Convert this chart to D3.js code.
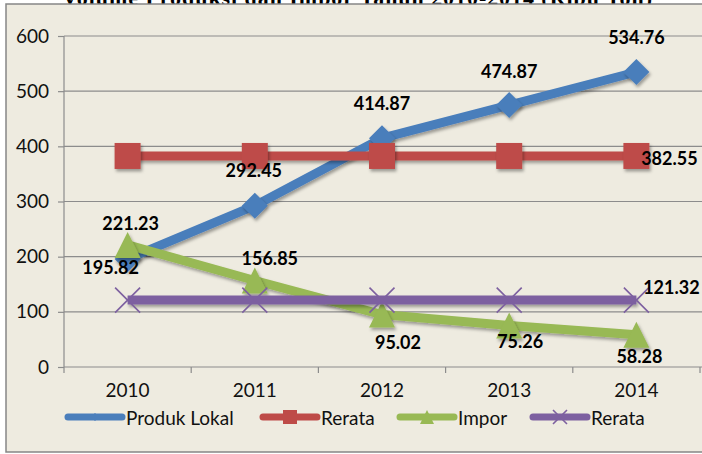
<!DOCTYPE html>
<meta charset="utf-8">
<style>
body { margin: 0; background: #fff; }
svg { display: block; }
.tick text { font-family: Lato, "Open Sans", sans-serif; font-size: 19px; fill: #111; }
.lbl { font-family: Lato, "Open Sans", sans-serif; font-size: 18px; font-weight: bold; fill: #000; }
</style>
<script src="https://d3js.org/d3.v7.min.js"></script>
<svg id="chart"></svg>
<script>
// chart data
var years = ["2010", "2011", "2012", "2013", "2014"];
var produkLokal = [195.82, 292.45, 414.87, 474.87, 534.76];
var rerataLokal = [382.55, 382.55, 382.55, 382.55, 382.55];
var impor = [221.23, 156.85, 95.02, 75.26, 58.28];
var rerataImpor = [121.32, 121.32, 121.32, 121.32, 121.32];
var yTicks = [0, 100, 200, 300, 400, 500, 600];
var seriesNames = ["Produk Lokal", "Rerata", "Impor", "Rerata"];

var W = 702, H = 454;
var svg = d3.select("#chart").attr("width", W).attr("height", H);

// drop shadow, in user space so flat lines keep it too
var defs = svg.append("defs");
var f = defs.append("filter").attr("id", "shadow").attr("filterUnits", "userSpaceOnUse")
  .attr("x", 0).attr("y", 0).attr("width", W).attr("height", H);
f.append("feDropShadow").attr("dx", 1.5).attr("dy", 2.5).attr("stdDeviation", 1.5).attr("flood-color", "#000").attr("flood-opacity", 0.35);

// cut-off title above frame
svg.append("text")
  .attr("x", 62).attr("y", 5)
  .attr("textLength", 590)
  .style("font-family", "'Liberation Serif', serif").style("font-weight", "bold").style("font-size", "22px")
  .text("Volume Produksi dan Impor Tahun 2010-2014 (Ribu Ton)");

// frame
svg.append("rect").attr("x", 6).attr("y", 4).attr("width", 710).attr("height", 448)
  .attr("fill", "#EEEBE0").attr("stroke", "#868686").attr("stroke-width", 1.5);

var x = d3.scaleBand().domain(years).range([64, 700]).padding(0);
var y = d3.scaleLinear().domain([0, 600]).range([367, 36]);
var cx = function(i) { return x(years[i]) + x.bandwidth() / 2; };

// gridlines
svg.append("g").selectAll("line").data(yTicks.slice(1)).enter().append("line")
  .attr("x1", 64).attr("x2", 702).attr("y1", d => y(d)).attr("y2", d => y(d))
  .attr("stroke", "#8C8C8C").attr("stroke-width", 1.2);

// y axis
var gy = svg.append("g").attr("transform", "translate(64,0)")
  .call(d3.axisLeft(y).tickValues(yTicks).tickSize(6).tickPadding(9));
gy.selectAll("line, path").attr("stroke", "#8C8C8C").attr("stroke-width", 1.2);
gy.select(".domain").attr("d", "M0," + y(600) + "V" + y(0));

// x axis
var gx = svg.append("g").attr("transform", "translate(0," + y(0) + ")")
  .call(d3.axisBottom(x).tickSize(0).tickPadding(17));
gx.select(".domain").attr("stroke", "#8C8C8C").attr("stroke-width", 1.2).attr("d", "M64,0H702");
gx.selectAll(".tk").data(d3.range(6)).enter().append("line").attr("class", "tk")
  .attr("x1", i => 64 + i * x.bandwidth()).attr("x2", i => 64 + i * x.bandwidth())
  .attr("y1", 0).attr("y2", 6).attr("stroke", "#8C8C8C").attr("stroke-width", 1.2);

var colors = ["#4A7EBB", "#BE4B48", "#98B954", "#7D60A0"];
var allSeries = [produkLokal, rerataLokal, impor, rerataImpor];
var line = d3.line().x((d, i) => cx(i)).y(d => y(d));

function marker(g, type, px, py, s, color, shadow) {
  var m;
  if (type === 0) {
    m = g.append("path").attr("d", "M" + px + "," + (py - s) + "L" + (px + s) + "," + py + "L" + px + "," + (py + s) + "L" + (px - s) + "," + py + "Z")
      .attr("fill", color);
  } else if (type === 1) {
    m = g.append("rect").attr("x", px - s).attr("y", py - s).attr("width", 2 * s).attr("height", 2 * s)
      .attr("fill", color);
  } else if (type === 2) {
    m = g.append("path").attr("d", "M" + px + "," + (py - s) + "L" + (px + s) + "," + (py + s) + "L" + (px - s) + "," + (py + s) + "Z")
      .attr("fill", color);
  } else {
    m = g.append("path").attr("d", "M" + (px - s) + "," + (py - s) + "L" + (px + s) + "," + (py + s) + "M" + (px + s) + "," + (py - s) + "L" + (px - s) + "," + (py + s))
      .attr("stroke", color).attr("stroke-width", 1.6).attr("fill", "none");
  }
  if (shadow && type !== 3) m.attr("filter", "url(#shadow)");
}
var mSize = [13, 13, 13, 12.5];

allSeries.forEach(function(data, k) {
  var g = svg.append("g");
  g.append("path").datum(data).attr("d", line).attr("fill", "none")
    .attr("stroke", colors[k]).attr("stroke-width", 9).attr("stroke-linejoin", "round")
    .attr("filter", "url(#shadow)");
  data.forEach(function(d, i) { marker(g, k, cx(i), y(d), mSize[k], colors[k], true); });
});

// data labels [series index, point index, dx, dy]
var labels = [
  [0, 0, -17, 8], [0, 1, -1, -36], [0, 2, 0, -35], [0, 3, 0, -34], [0, 4, 0, -35],
  [1, 4, 33, 2],
  [2, 0, 3, -22], [2, 1, 15, -22], [2, 2, 16, 27], [2, 3, 11, 16], [2, 4, 3, 21],
  [3, 4, 35, -13]
];
svg.append("g").selectAll("text").data(labels).enter().append("text")
  .attr("class", "lbl").attr("text-anchor", "middle").attr("dominant-baseline", "central")
  .attr("x", d => cx(d[1]) + d[2]).attr("y", d => y(allSeries[d[0]][d[1]]) + d[3])
  .text(d => allSeries[d[0]][d[1]].toFixed(2));

// legend
var legX = [68, 263, 400, 533];
var mLeg = [4, 7, 7, 7];
var lg = svg.append("g");
seriesNames.forEach(function(name, k) {
  var ly = 417;
  lg.append("line").attr("x1", legX[k]).attr("x2", legX[k] + 54).attr("y1", ly).attr("y2", ly)
    .attr("stroke", colors[k]).attr("stroke-width", 7).attr("stroke-linecap", "round");
  marker(lg, k, legX[k] + 27, ly, mLeg[k], colors[k], false);
  lg.append("text").attr("x", legX[k] + 58).attr("y", ly).attr("dominant-baseline", "central")
    .style("font-family", "Lato, 'Open Sans', sans-serif").style("font-size", "19px").style("fill", "#111")
    .text(name);
});
</script>
